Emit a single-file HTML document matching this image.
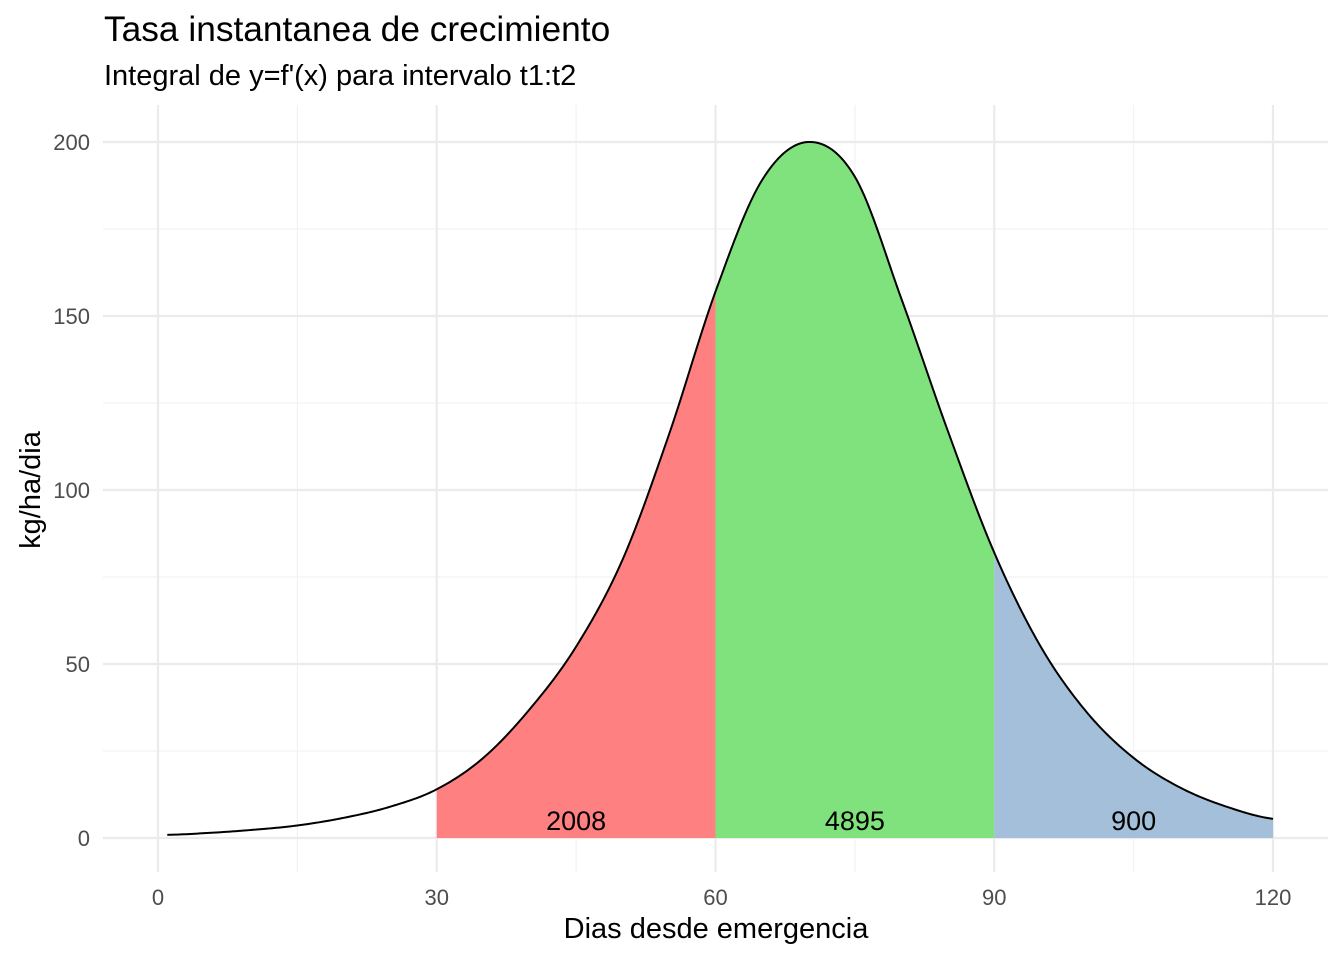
<!DOCTYPE html>
<html><head><meta charset="utf-8"><style>
body{margin:0;background:#fff;}
svg{display:block;font-family:"Liberation Sans",sans-serif;}
</style></head><body>
<svg id="chart" width="1344" height="960">
<text x="104" y="41" font-size="35.3" fill="#000">Tasa instantanea de crecimiento</text>
<text x="104" y="85" font-size="29" fill="#000">Integral de y=f'(x) para intervalo t1:t2</text>
<g id="grid"></g>
<g id="areas"></g>
<g id="line"></g>
<g id="labels"></g>
<g id="axes"></g>
<text x="716" y="938" font-size="29" text-anchor="middle" fill="#000">Dias desde emergencia</text>
<text transform="translate(40,490) rotate(-90)" font-size="29" text-anchor="middle" fill="#000">kg/ha/dia</text>
</svg>
<script>
const xs = [1,5,10,15,20,25,30,35,40,45,50,55,60,65,70,75,80,85,90,95,100,105,110,115,120];
const ys = [0.9,1.4,2.3,3.6,5.8,9,14,23,37,55,80,116,157,189,200,190,155,117,82,55,36,23,14.5,9,5.5];
const regionStarts = [30,60,90];
const regionEnds = [60,90,120];
const regionLabels = ["2008","4895","900"];
const regionColors = ["#ff8080","#7fe27c","#a3bfd9"];
const xTicks = [0,30,60,90,120];
const xMinor = [15,45,75,105];
const yTicks = [0,50,100,150,200];
const yMinor = [25,75,125,175];

const X = v => 158 + v*(1273-158)/120;
const Y = v => 838 - v*(838-142)/200;
const ns = "http://www.w3.org/2000/svg";
function mk(tag, attrs, parent){const e=document.createElementNS(ns,tag);for(const k in attrs)e.setAttribute(k,attrs[k]);parent.appendChild(e);return e;}
function f(x){
  if(x<=xs[0]) return ys[0];
  if(x>=xs[xs.length-1]) return ys[ys.length-1];
  let i=0; while(xs[i+1]<x) i++;
  const p0=ys[Math.max(i-1,0)],p1=ys[i],p2=ys[i+1],p3=ys[Math.min(i+2,ys.length-1)];
  const t=(x-xs[i])/(xs[i+1]-xs[i]);
  return 0.5*((2*p1)+(-p0+p2)*t+(2*p0-5*p1+4*p2-p3)*t*t+(-p0+3*p1-3*p2+p3)*t*t*t);
}
const grid=document.getElementById('grid');
const L=103,R=1328,T=105,B=872;
yMinor.forEach(v=>{const e=mk('line',{x1:L,x2:R,y1:Y(v),y2:Y(v),stroke:'#f2f2f2','stroke-width':1.2},grid);

});
xMinor.forEach(v=>{const e=mk('line',{x1:X(v),x2:X(v),y1:T,y2:B,stroke:'#f2f2f2','stroke-width':1.2},grid);

});
yTicks.forEach(v=>{const e=mk('line',{x1:L,x2:R,y1:Y(v),y2:Y(v),stroke:'#ebebeb','stroke-width':2.2},grid);

});
xTicks.forEach(v=>{const e=mk('line',{x1:X(v),x2:X(v),y1:T,y2:B,stroke:'#ebebeb','stroke-width':2.2},grid);

});
const areas=document.getElementById('areas');
const labels=document.getElementById('labels');
regionStarts.forEach((s,i)=>{
  const e=regionEnds[i];
  let d='M'+X(s)+','+Y(0);
  for(let x=s;x<=e+1e-9;x+=0.25) d+=' L'+X(x).toFixed(2)+','+Y(f(x)).toFixed(2);
  d+=' L'+X(e)+','+Y(0)+' Z';
  const p=mk('path',{d:d,fill:regionColors[i]},areas);
  
  
  const t=mk('text',{x:X((s+e)/2),y:Y(0)-8,'font-size':27,'text-anchor':'middle',fill:'#000'},labels);
  t.textContent=regionLabels[i];
  
  
});
let d='';
for(let x=xs[0];x<=xs[xs.length-1]+1e-9;x+=0.25) d+=(d?' L':'M')+X(x).toFixed(2)+','+Y(f(x)).toFixed(2);
const ln=mk('path',{d:d,fill:'none',stroke:'#000','stroke-width':2},document.getElementById('line'));


const axes=document.getElementById('axes');
xTicks.forEach(v=>{const t=mk('text',{x:X(v),y:905,'font-size':22,'text-anchor':'middle',fill:'#4d4d4d'},axes);
t.textContent=v;

});
yTicks.forEach(v=>{const t=mk('text',{x:90,y:Y(v)+8,'font-size':22,'text-anchor':'end',fill:'#4d4d4d'},axes);
t.textContent=v;

});
</script>
</body></html>
